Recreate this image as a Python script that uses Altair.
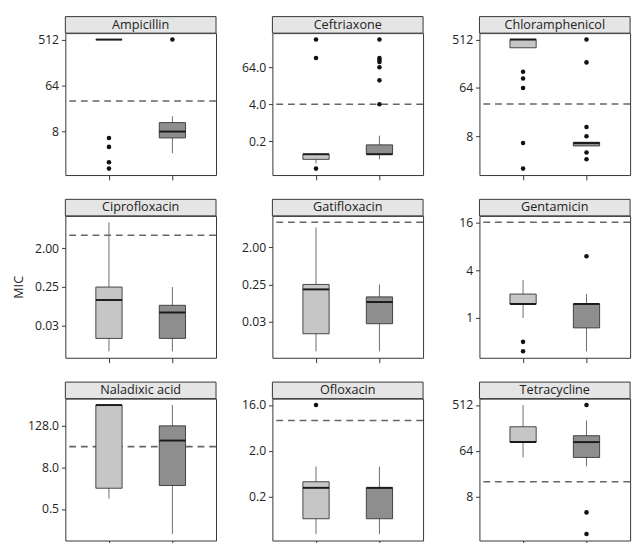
import math
import altair as alt
import pandas as pd

# ---------------- data ----------------
antibiotics = ["Ampicillin", "Ceftriaxone", "Chloramphenicol",
               "Ciprofloxacin", "Gatifloxacin", "Gentamicin",
               "Naladixic acid", "Ofloxacin", "Tetracycline"]
groups = ["1", "2"]
breakpoints = [32, 4, 32, 4, 8, 16, 32, 8, 16]

# box statistics, two groups per antibiotic (antibiotic-major order)
whisker_low = [512, 3,   0.047, 0.064,  360, 5.3,   0.008, 0.008,  0.006, 0.006,  1, 0.38,    1, 0.094,  0.047, 0.047,  48, 32]
box_q1      = [512, 6,   0.064, 0.094,  360, 5.3,   0.016, 0.016,  0.016, 0.028,  1.5, 0.75,  2, 2.4,    0.094, 0.094,  96, 48]
box_median  = [512, 8,   0.094, 0.094,  512, 6,     0.125, 0.064,  0.19, 0.094,   1.5, 1.5,   512, 48,   0.38, 0.38,    96, 96]
box_q3      = [512, 12,  0.094, 0.19,   512, 6.2,   0.25, 0.094,   0.25, 0.125,   2, 1.5,     512, 128,  0.5, 0.38,     192, 128]
whisker_high= [512, 16,  0.094, 0.38,   512, 6.2,   8, 0.25,       6, 0.25,       3, 2,       512, 512,  1, 1,          512, 256]

out_antibiotic = (["Ampicillin"] * 5 + ["Ceftriaxone"] * 10 + ["Chloramphenicol"] * 11
                  + ["Gentamicin"] * 3 + ["Ofloxacin"] + ["Tetracycline"] * 3)
out_group = (["1", "1", "1", "1", "2"]
             + ["1", "1", "1", "2", "2", "2", "2", "2", "2", "2"]
             + ["1", "1", "1", "1", "1", "2", "2", "2", "2", "2", "2"]
             + ["1", "1", "2"] + ["1"] + ["2", "2", "2"])
out_value = ([6, 4, 2, 1.5, 512]
             + [512, 128, 0.032, 512, 128, 112, 96, 64, 24, 4]
             + [128, 96, 64, 6, 2, 512, 192, 12, 8, 4, 3]
             + [0.5, 0.38, 6] + [16] + [512, 4, 1.5])

tick_values = [[8, 64, 512], [0.25, 4, 64], [8, 64, 512],
               [0.03125, 0.25, 2], [0.03125, 0.25, 2], [1, 4, 16],
               [0.5, 8, 128], [0.25, 2, 16], [8, 64, 512]]
tick_labels = [["8", "64", "512"], ["0.2", "4.0", "64.0"], ["8", "64", "512"],
               ["0.03", "0.25", "2.00"], ["0.03", "0.25", "2.00"], ["1", "4", "16"],
               ["0.5", "8.0", "128.0"], ["0.2", "2.0", "16.0"], ["8", "64", "512"]]

# ---------------- tables ----------------
rows = []
for i, ab in enumerate(antibiotics):
    for j, g in enumerate(groups):
        k = 2 * i + j
        rows.append(dict(antibiotic=ab, group=g, pos=j + 1,
                         lo=whisker_low[k], q1=box_q1[k], median=box_median[k],
                         q3=box_q3[k], hi=whisker_high[k]))
box_df = pd.DataFrame(rows)
out_df = pd.DataFrame(dict(antibiotic=out_antibiotic, group=out_group, value=out_value))
out_df["pos"] = out_df["group"].map({g: j + 1 for j, g in enumerate(groups)})
bp_df = pd.DataFrame(dict(antibiotic=antibiotics, breakpoint=breakpoints))

# ---------------- style ----------------
W, H = 155, 146
EXT = 38
LIGHT, DARK = "#c6c6c6", "#8e8e8e"
FONT = "Open Sans"
TXT = "#222222"
LINE = "#333333"


def log_domain(ab, bp):
    b = box_df[box_df.antibiotic == ab]
    o = out_df[out_df.antibiotic == ab]
    vals = list(b.lo) + list(b.hi) + list(o.value) + [bp]
    a, z = math.log2(min(vals)), math.log2(max(vals))
    e = 0.05 * (z - a)
    return [2 ** (a - e), 2 ** (z + e)]


def panel(i):
    ab = antibiotics[i]
    col = i % 3
    bdf = box_df[box_df.antibiotic == ab]
    odf = out_df[out_df.antibiotic == ab]
    pdf = bp_df[bp_df.antibiotic == ab]

    expr = " : ".join(
        f"abs(datum.value - {v}) < {v * 1e-6} ? '{l}'"
        for v, l in zip(tick_values[i], tick_labels[i])) + " : ''"
    yscale = alt.Scale(type="log", domain=log_domain(ab, breakpoints[i]), nice=False)
    yargs = dict(values=tick_values[i], labelExpr=expr, tickSize=4, domain=False,
                 grid=False, minExtent=EXT, maxExtent=EXT, labelPadding=3)
    if col == 0:
        yaxis = alt.Axis(title="MIC", titleOpacity=1 if i == 3 else 0,
                         titlePadding=3, **yargs)
    else:
        yaxis = alt.Axis(title=None, **yargs)
    xscale = alt.Scale(domain=[0.389, 2.611], nice=False, zero=False)
    xaxis = alt.Axis(values=[1, 2], labels=False, title=None, grid=False,
                     domain=False, tickSize=5)
    X = alt.X("pos:Q", scale=xscale, axis=xaxis)

    strip = alt.Chart(pdf).mark_rect(fill="#e5e5e5", stroke=LINE, strokeWidth=1).encode(
        x=alt.value(0), x2=alt.value(W), y=alt.value(-17), y2=alt.value(0))
    strip_txt = alt.Chart(pdf).mark_text(font=FONT, fontSize=13, color=TXT,
                                         baseline="middle").encode(
        x=alt.value(W / 2), y=alt.value(-8.5), text="antibiotic:N")
    hline = alt.Chart(pdf).mark_rule(color="#666666", strokeWidth=1.6,
                                     strokeDash=[7, 5]).encode(
        y=alt.Y("breakpoint:Q", scale=yscale, axis=yaxis))
    whisk = alt.Chart(bdf).mark_rule(color="#6a6a6a", strokeWidth=1).encode(
        x=X, y=alt.Y("lo:Q", scale=yscale, axis=yaxis), y2="hi:Q")
    box = alt.Chart(bdf).mark_bar(size=27, stroke=LINE, strokeWidth=0.9,
                                  orient="vertical").encode(
        x=X, y=alt.Y("q1:Q", scale=yscale, axis=yaxis), y2="q3:Q",
        color=alt.Color("group:N", scale=alt.Scale(domain=groups, range=[LIGHT, DARK]),
                        legend=None))
    med = alt.Chart(bdf).mark_tick(orient="horizontal", size=27, thickness=2,
                                   color="#1a1a1a", opacity=1).encode(
        x=X, y=alt.Y("median:Q", scale=yscale, axis=yaxis))
    pts = alt.Chart(odf).mark_circle(size=22, color="#111111", opacity=1).encode(
        x=X, y=alt.Y("value:Q", scale=yscale, axis=yaxis))

    return alt.layer(strip, strip_txt, hline, whisk, box, med, pts).properties(
        width=W, height=H)


chart = alt.vconcat(
    *[alt.hconcat(*[panel(3 * r + c) for c in range(3)], spacing=17) for r in range(3)],
    spacing=18
).properties(
    padding={"left": 4, "top": 0, "right": 2, "bottom": 0}
).configure_view(
    stroke=LINE, strokeWidth=1
).configure_axis(
    labelFont=FONT, titleFont=FONT, labelFontSize=12.5, titleFontSize=13,
    labelColor=TXT, titleColor=TXT, titleFontWeight="normal", tickColor=LINE
)

chart.save("out.html", embed_options={"renderer": "svg", "actions": False})
